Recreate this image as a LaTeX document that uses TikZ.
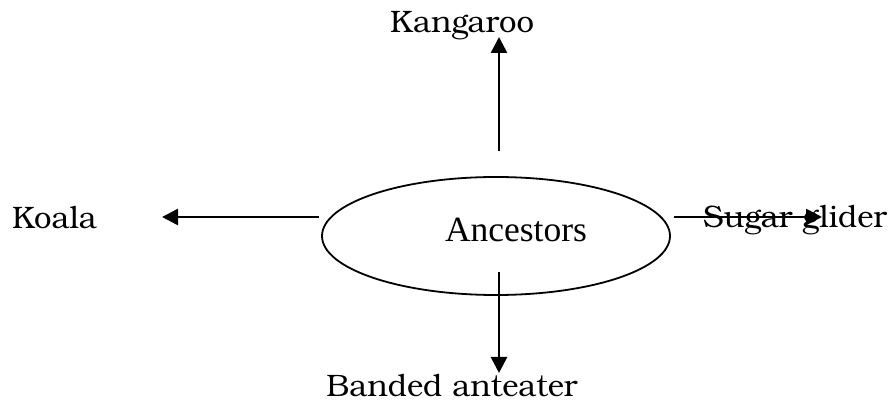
\documentclass[tikz,border=0pt]{standalone}
\usepackage{fontspec}
\setmainfont{Liberation Serif}
\newfontfamily\bookfont{TeX Gyre Bonum}
\usetikzlibrary{arrows.meta,calc,shapes.geometric}
\begin{document}
\begin{tikzpicture}[x=1pt,y=1pt,
  leaf/.style={inner sep=0pt,font=\bookfont\fontsize{31}{33}\selectfont},
  arr/.style={line width=2.6pt,-{Triangle[length=16pt,width=16pt]}}]
\useasboundingbox (0,0) rectangle (894,404);
% central ellipse
\node[ellipse,draw,line width=1.8pt,minimum width=348pt,minimum height=118pt,inner sep=0pt] (anc) at (496,168) {};
\node[anchor=base,inner sep=0pt,font=\fontsize{35.5}{38}\selectfont] (ancl) at (516,162) {Ancestors};
% descendants
\node[leaf,anchor=base] (kang) at (462,371) {Kangaroo};
\node[leaf,anchor=base west] (koala) at (12,175) {Koala};
\node[leaf,anchor=base west] (sug) at (703,176) {Sugar glider};
\node[leaf,anchor=base] (band) at (452,7) {Banded anteater};
% connector starts
\coordinate (upS) at ($(anc.north)+(3,25)$);
\coordinate (downS) at ($(anc.south)+(3,24)$);
\coordinate (leftS) at ($(anc.west)+(-2,19)$);
\coordinate (rightS) at ($(anc.east)+(3,19)$);
% arrows
\draw[arr] (upS) -- ($(upS |- kang.base)+(0,-4)$);
\draw[arr] (downS) -- ($(downS |- band.base)+(0,24)$);
\draw[arr] (leftS) -- ($(leftS -| koala.east)+(65,0)$);
\draw[arr] (rightS) -- ($(rightS -| sug.west)+(119,0)$);
\end{tikzpicture}
\end{document}
